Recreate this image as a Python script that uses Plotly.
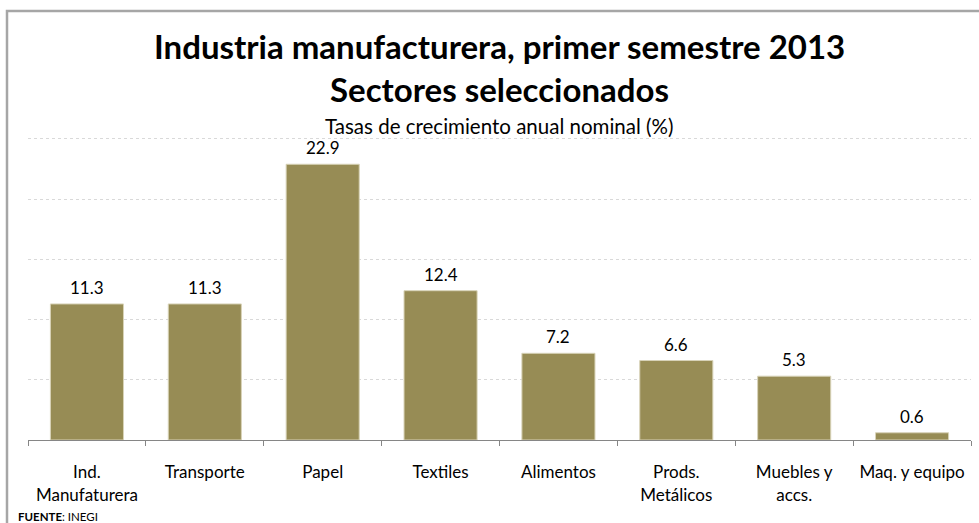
import plotly.graph_objects as go

# Sector names (category axis) and annual nominal growth rates (%)
sectores = [
    "Ind.<br>Manufaturera",
    "Transporte",
    "Papel",
    "Textiles",
    "Alimentos",
    "Prods.<br>Metálicos",
    "Muebles y<br>accs.",
    "Maq. y equipo",
]
tasas = [11.3, 11.3, 22.9, 12.4, 7.2, 6.6, 5.3, 0.6]
etiquetas = [f"{v:.1f}" for v in tasas]

FONT = "Lato"
BAR_COLOR = "#978C55"

W, H = 979, 523
ML, MR, MT, MB = 28, 8, 135, 83
Y_MAX = 25.33

fig = go.Figure(
    go.Bar(
        x=sectores,
        y=tasas,
        marker=dict(color=BAR_COLOR, line=dict(color="#D8D3B8", width=1)),
        hoverinfo="skip",
    )
)

# Value labels above each bar
for s, v, t in zip(sectores, tasas, etiquetas):
    fig.add_annotation(
        x=s, y=v, text=t, showarrow=False,
        xanchor="center", yanchor="bottom", yshift=4,
        font=dict(family=FONT, size=17, color="#000000"),
    )

fig.update_layout(
    width=W,
    height=H,
    margin=dict(l=ML, r=MR, t=MT, b=MB),
    paper_bgcolor="white",
    plot_bgcolor="white",
    bargap=0.38,
    showlegend=False,
    font=dict(family=FONT, color="#000000"),
)

fig.update_xaxes(
    type="category",
    showline=True,
    linecolor="#868686",
    linewidth=1,
    ticks="outside",
    tickson="boundaries",
    ticklen=5,
    tickcolor="#868686",
    ticklabelstandoff=17,
    tickfont=dict(family=FONT, size=17, color="#000000"),
    showgrid=False,
)

fig.update_yaxes(
    range=[0, Y_MAX],
    dtick=5,
    showticklabels=False,
    showgrid=True,
    gridcolor="#D9D9D9",
    griddash="dot",
    gridwidth=1,
    zeroline=False,
    showline=False,
    ticks="",
)

plot_w = W - ML - MR
plot_h = H - MT - MB

def px_x(x):
    return (x - ML) / plot_w

def px_y(y):
    return (H - MB - y) / plot_h

# Outer frame of the chart
fig.add_shape(
    type="rect",
    xref="paper", yref="paper",
    x0=px_x(7), x1=px_x(990), y0=px_y(540), y1=px_y(11),
    line=dict(color="#A6A6A6", width=2.5),
    layer="below",
)

fig.add_annotation(
    text="<b>Industria manufacturera, primer semestre 2013</b>",
    xref="paper", yref="paper", x=px_x(499), y=px_y(46),
    showarrow=False, font=dict(family=FONT, size=33, color="#000000"),
    xanchor="center", yanchor="middle",
)
fig.add_annotation(
    text="<b>Sectores seleccionados</b>",
    xref="paper", yref="paper", x=px_x(499), y=px_y(89),
    showarrow=False, font=dict(family=FONT, size=33, color="#000000"),
    xanchor="center", yanchor="middle",
)
fig.add_annotation(
    text="Tasas de crecimiento anual nominal (%)",
    xref="paper", yref="paper", x=px_x(499), y=px_y(126),
    showarrow=False, font=dict(family=FONT, size=20.5, color="#000000"),
    xanchor="center", yanchor="middle",
)
fig.add_annotation(
    text="<b>FUENTE</b>: INEGI",
    xref="paper", yref="paper", x=px_x(16), y=px_y(516),
    showarrow=False, font=dict(family=FONT, size=11.5, color="#000000"),
    xanchor="left", yanchor="middle",
)

fig.write_html("out.html")
